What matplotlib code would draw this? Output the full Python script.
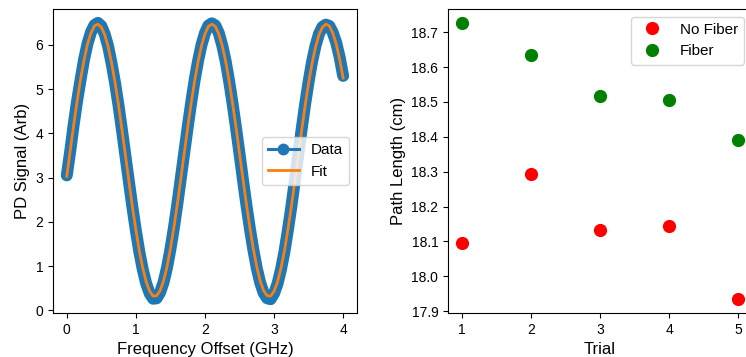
"""
plot.py
Photodiode signal vs frequency offset with sinusoidal fit, and measured path lengths per trial.
"""
import numpy as np
import matplotlib
matplotlib.use("Agg")
import matplotlib.pyplot as plt
from matplotlib.lines import Line2D

# Left panel: frequency sweep, 0 to 4 GHz in 0.05 GHz steps
freq_ghz = np.linspace(0.0, 4.0, 81)

pd_data = [
    3.05, 3.60, 4.20, 4.74, 5.22, 5.67, 6.03, 6.29, 6.45, 6.50,
    6.43, 6.24, 5.96, 5.57, 5.13, 4.62, 4.06, 3.48, 2.90, 2.33,
    1.80, 1.32, 0.92, 0.60, 0.38, 0.26, 0.27, 0.40, 0.63, 0.96,
    1.38, 1.86, 2.40, 2.98, 3.56, 4.14, 4.69, 5.20, 5.64, 6.00,
    6.27, 6.44, 6.49, 6.44, 6.27, 5.99, 5.63, 5.18, 4.67, 4.12,
    3.54, 2.95, 2.38, 1.85, 1.37, 0.95, 0.62, 0.39, 0.27, 0.25,
    0.38, 0.60, 0.92, 1.32, 1.81, 2.34, 2.92, 3.51, 4.10, 4.66,
    5.17, 5.62, 5.98, 6.25, 6.41, 6.46, 6.43, 6.28, 6.05, 5.72,
    5.30,
]

pd_fit = [
    3.03, 3.61, 4.19, 4.73, 5.23, 5.66, 6.02, 6.27, 6.43, 6.47,
    6.40, 6.23, 5.95, 5.58, 5.14, 4.63, 4.07, 3.49, 2.91, 2.34,
    1.82, 1.34, 0.95, 0.64, 0.43, 0.32, 0.33, 0.44, 0.66, 0.98,
    1.39, 1.87, 2.40, 2.97, 3.55, 4.13, 4.68, 5.18, 5.62, 5.98,
    6.25, 6.42, 6.47, 6.42, 6.25, 5.98, 5.63, 5.18, 4.68, 4.13,
    3.55, 2.97, 2.40, 1.87, 1.39, 0.98, 0.66, 0.44, 0.33, 0.32,
    0.43, 0.64, 0.95, 1.34, 1.82, 2.34, 2.91, 3.49, 4.07, 4.63,
    5.14, 5.58, 5.95, 6.23, 6.40, 6.47, 6.43, 6.27, 6.02, 5.67,
    5.25,
]

# Right panel: path length per trial
trials = [1, 2, 3, 4, 5]
no_fiber_cm = [18.095, 18.294, 18.133, 18.143, 17.934]
fiber_cm = [18.727, 18.634, 18.517, 18.507, 18.392]


def main():
    plt.rcParams['font.family'] = ['Liberation Sans', 'DejaVu Sans']

    fig = plt.figure(figsize=(7.46, 3.57), dpi=100)
    ax1 = fig.add_axes([0.0710, 0.1232, 0.4075, 0.8515])
    ax2 = fig.add_axes([0.6005, 0.1232, 0.4075, 0.8515])

    # dense data markers drawn as a thick band, plus the marker/line for the legend
    ax1.plot(freq_ghz, pd_data, '-', color='#1f77b4', lw=8.6,
             solid_capstyle='round', solid_joinstyle='round')
    ax1.plot(freq_ghz, pd_fit, '-', color='#ff7f0e', lw=2.0)
    handles = [
        Line2D([], [], color='#1f77b4', marker='o', lw=2.2, ms=7.5),
        Line2D([], [], color='#ff7f0e', lw=2.0),
    ]
    ax1.legend(handles, ['Data', 'Fit'], loc='center right', fontsize=11)
    ax1.set_xlabel('Frequency Offset (GHz)', fontsize=12)
    ax1.set_ylabel('PD Signal (Arb)', fontsize=12)
    ax1.set_xticks([0, 1, 2, 3, 4])
    ax1.set_yticks([0, 1, 2, 3, 4, 5, 6])
    ax1.tick_params(labelsize=10)
    ax1.set_xlim(-0.2, 4.2)
    ax1.set_ylim(-0.0625, 6.8125)

    ax2.plot(trials, no_fiber_cm, 'o', color='red', ms=8.5, label='No Fiber')
    ax2.plot(trials, fiber_cm, 'o', color='green', ms=8.5, label='Fiber')
    ax2.legend(loc='upper right', fontsize=11)
    ax2.set_xlabel('Trial', fontsize=12)
    ax2.set_ylabel('Path Length (cm)', fontsize=12)
    ax2.set_xticks(trials)
    ax2.set_yticks(np.arange(17.9, 18.75, 0.1))
    ax2.yaxis.set_major_formatter(plt.FormatStrFormatter('%.1f'))
    ax2.tick_params(labelsize=10)
    ax2.set_xlim(0.8, 5.2)

    fig.savefig('out.png', dpi=100)


if __name__ == "__main__":
    main()
